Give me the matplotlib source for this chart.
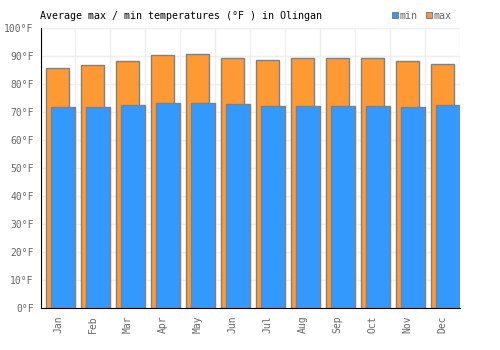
import matplotlib
matplotlib.use('Agg')
import matplotlib.pyplot as plt
import numpy as np

months = ['Jan', 'Feb', 'Mar', 'Apr', 'May', 'Jun', 'Jul', 'Aug', 'Sep', 'Oct', 'Nov', 'Dec']
max_temp = [85.6, 86.7, 88.1, 90.2, 90.6, 89.2, 88.5, 89.2, 89.2, 89.2, 88.1, 87.0]
min_temp = [71.7, 71.7, 72.4, 73.1, 73.1, 72.8, 72.0, 72.0, 72.0, 72.0, 71.7, 72.4]
y_ticks = [0, 10, 20, 30, 40, 50, 60, 70, 80, 90, 100]

plt.rcParams['font.family'] = 'DejaVu Sans Mono'

fig = plt.figure(figsize=(5, 3.5), dpi=100)
ax = fig.add_axes([0.081, 0.12, 0.839, 0.80])

x = np.arange(len(months))
# max bars sit behind, shifted left; min bars in front, flush with the right edge
ax.bar(x - 0.343, max_temp, width=0.67, align='edge', color='#ff9933',
       edgecolor='#808080', linewidth=1, zorder=2)
ax.bar(x - 0.2, min_temp, width=0.7, align='edge', color='#3399ff',
       edgecolor='#808080', linewidth=1, zorder=3)

ax.set_xlim(-0.5, len(months) - 0.5)
ax.set_ylim(0, 100)
ax.set_yticks(y_ticks)
ax.set_yticklabels([f'{t}°F' for t in y_ticks], fontsize=7, color='#666666')
ax.set_xticks(x)
ax.set_xticklabels(months, rotation=90, fontsize=7, color='#666666')
ax.tick_params(length=0, pad=5)

# grid on category boundaries
for b in np.arange(-0.5, len(months), 1):
    ax.axvline(b, color='#eeeeee', linewidth=1, zorder=0)
for t in y_ticks:
    ax.axhline(t, color='#eeeeee', linewidth=1, zorder=0)

for s in ['top', 'right']:
    ax.spines[s].set_visible(False)
ax.spines['left'].set_color('black')
ax.spines['bottom'].set_color('black')
ax.spines['left'].set_zorder(5)
ax.spines['bottom'].set_zorder(5)

fig.text(0.08, 0.955, 'Average max / min temperatures (°F ) in Olingan',
         fontsize=7.2, color='black', va='center')

# legend
fig.patches.append(plt.Rectangle((0.784, 0.948), 0.012, 0.017, transform=fig.transFigure,
                                 facecolor='#3399ff', edgecolor='#808080', linewidth=0.8))
fig.text(0.8, 0.955, 'min', fontsize=7.2, color='#666666', va='center')
fig.patches.append(plt.Rectangle((0.852, 0.948), 0.012, 0.017, transform=fig.transFigure,
                                 facecolor='#ff9933', edgecolor='#808080', linewidth=0.8))
fig.text(0.868, 0.955, 'max', fontsize=7.2, color='#666666', va='center')

fig.savefig('out.png', dpi=100)
